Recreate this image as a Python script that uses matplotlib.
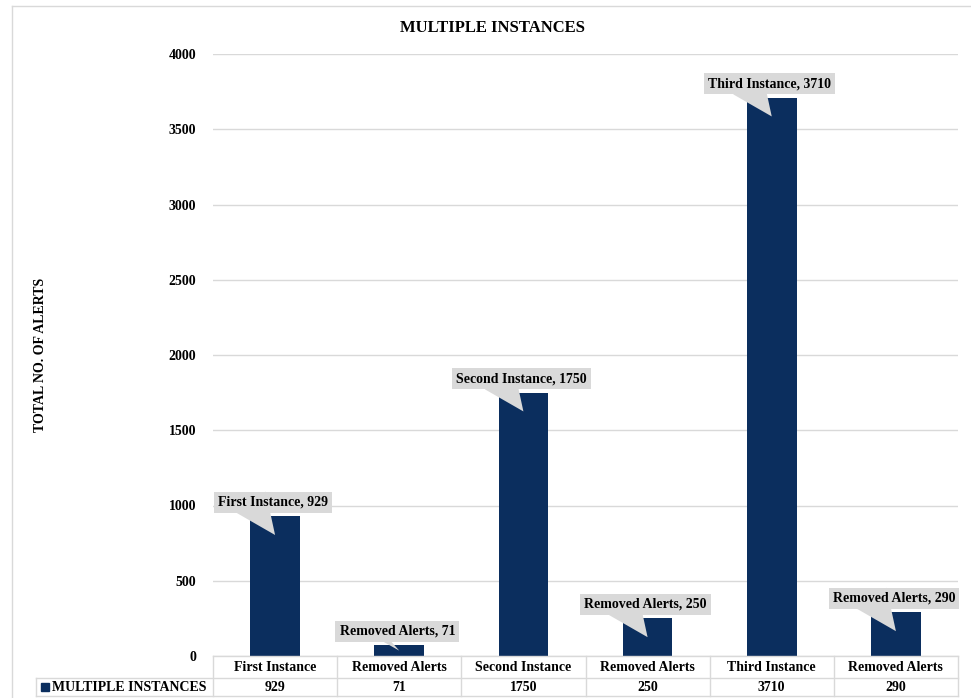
import matplotlib.pyplot as plt
import matplotlib.transforms as mtransforms
from matplotlib.lines import Line2D

# === DATA ===
categories = ["First Instance", "Removed Alerts", "Second Instance",
              "Removed Alerts", "Third Instance", "Removed Alerts"]
alerts = [929, 71, 1750, 250, 3710, 290]
series_name = "MULTIPLE INSTANCES"

navy = "#0b2e5e"
grid_grey = "#d9d9d9"
callout_grey = "#d9d9d9"

plt.rcParams["font.family"] = ["Liberation Serif", "DejaVu Serif"]
plt.rcParams["font.weight"] = "bold"

fig = plt.figure(figsize=(9.71, 6.98), dpi=100)
ax = fig.add_axes([213 / 971, 42 / 698, 745 / 971, 602 / 698])

x = list(range(len(categories)))
ax.bar(x, alerts, width=0.4, color=navy, zorder=2)

ax.set_xlim(-0.5, len(categories) - 0.5)
ax.set_ylim(0, 4000)
ax.set_yticks(range(0, 4001, 500))
ax.set_yticklabels([str(v) for v in range(0, 4001, 500)], fontsize=10, fontweight="bold")
ax.tick_params(axis="y", length=0, pad=12)
ax.set_xticks([])
ax.grid(axis="y", color=grid_grey, linewidth=1, zorder=0)
for side in ["top", "right", "left", "bottom"]:
    ax.spines[side].set_visible(False)

# callouts: grey label box with a wedge pointing into the bar
for i, (cat, v) in enumerate(zip(categories, alerts)):
    depth = min(125, v / 2)          # how far the pointer reaches into the bar
    tip = v - depth
    tail = 1.3 * depth / 125
    start = ax.transData + mtransforms.ScaledTranslation(-0.24, 0.14, fig.dpi_scale_trans)
    ax.annotate("", xy=(i, tip), xycoords="data",
                xytext=(i, v), textcoords=start,
                arrowprops=dict(arrowstyle=f"wedge,tail_width={tail:.2f}",
                                fc=callout_grey, ec="none",
                                shrinkA=0, shrinkB=0, mutation_scale=20),
                zorder=3, annotation_clip=False)
    label_pos = ax.transData + mtransforms.ScaledTranslation(-0.02, 0.14, fig.dpi_scale_trans)
    ax.text(i, v, f"{cat}, {v}", transform=label_pos, ha="center", va="center",
            fontsize=10, fontweight="bold", zorder=4,
            bbox=dict(boxstyle="square,pad=0.3", fc=callout_grey, ec="none"))

# data table under the plot
tbl = mtransforms.blended_transform_factory(ax.transData, ax.transAxes)
y_head, y_mid, y_val, y_bot = -0.0183, -0.0365, -0.0515, -0.0664
leg_left = -0.2376
n = len(categories)

def hline(x0, x1, y, trans):
    ax.add_line(Line2D([x0, x1], [y, y], transform=trans, color=grid_grey,
                       linewidth=1, clip_on=False))

def vline(xv, y0, y1, trans):
    ax.add_line(Line2D([xv, xv], [y0, y1], transform=trans, color=grid_grey,
                       linewidth=1, clip_on=False))

hline(-0.5, n - 0.5, 0, tbl)
hline(leg_left, 1, y_mid, ax.transAxes)
hline(leg_left, 1, y_bot, ax.transAxes)
vline(leg_left, y_mid, y_bot, ax.transAxes)
for b in range(n + 1):
    vline(b - 0.5, 0, y_bot, tbl)

for i, (cat, v) in enumerate(zip(categories, alerts)):
    ax.text(i, y_head, cat, transform=tbl, ha="center", va="center",
            fontsize=10, fontweight="bold")
    ax.text(i, y_val, str(v), transform=tbl, ha="center", va="center",
            fontsize=10, fontweight="bold")

ax.plot([-0.2255], [y_val], marker="s", ms=5.5, color=navy,
        transform=ax.transAxes, clip_on=False)
ax.text(-0.2161, y_val, series_name, transform=ax.transAxes, ha="left",
        va="center", fontsize=10, fontweight="bold")

# titles
fig.text(492 / 971, 1 - 28 / 698, "MULTIPLE INSTANCES", ha="center", va="center",
         fontsize=12, fontweight="bold")
fig.text(41 / 971, 1 - 355 / 698, "TOTAL NO. OF ALERTS", ha="center", va="center",
         rotation=90, fontsize=10, fontweight="bold")

# chart area border (top and left edges)
fig.add_artist(Line2D([12 / 971, 12 / 971], [0, 1 - 6 / 698], color=grid_grey,
                      linewidth=1, transform=fig.transFigure))
fig.add_artist(Line2D([12 / 971, 1], [1 - 6 / 698, 1 - 6 / 698], color=grid_grey,
                      linewidth=1, transform=fig.transFigure))

fig.savefig("out.png", dpi=100)
